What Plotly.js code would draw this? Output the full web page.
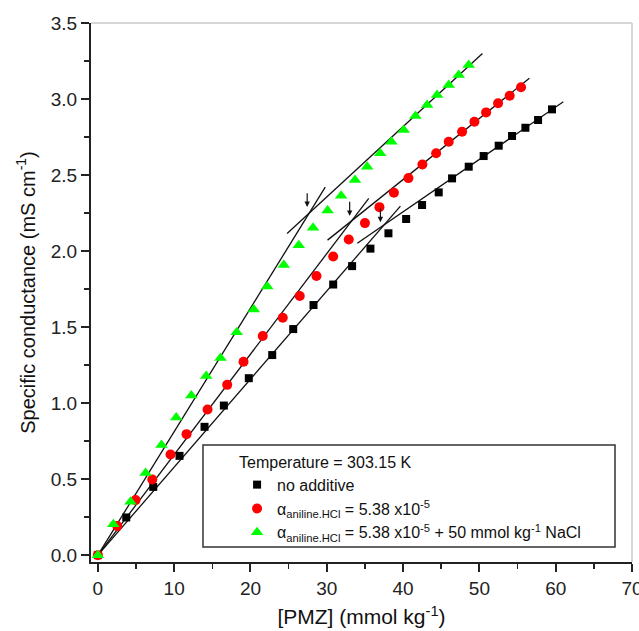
<!DOCTYPE html>
<html>
<head>
<meta charset="utf-8">
<script src="https://cdn.plot.ly/plotly-3.0.1.min.js"></script>
<style>html,body{margin:0;padding:0;background:#fff;}#chart{width:639px;height:631px;}</style>
</head>
<body>
<div id="chart"></div>
<script>
// ---- data ----
const blackX = [0, 3.72, 7.26, 10.70, 13.98, 16.51, 19.78, 22.85, 25.60, 28.26, 30.84, 33.32, 35.72, 38.08, 40.40, 42.49, 44.67, 46.42, 48.60, 50.56, 52.53, 54.28, 56.03, 57.69, 59.52];
const blackY = [0, 0.248, 0.449, 0.653, 0.844, 0.984, 1.164, 1.316, 1.487, 1.645, 1.780, 1.901, 2.016, 2.117, 2.211, 2.303, 2.386, 2.478, 2.555, 2.625, 2.693, 2.757, 2.811, 2.862, 2.932];

const redX = [0, 2.54, 4.94, 7.13, 9.52, 11.62, 14.37, 16.95, 19.09, 21.61, 24.23, 26.46, 28.65, 30.84, 32.88, 35.00, 36.90, 38.80, 40.70, 42.53, 44.33, 45.98, 47.73, 49.35, 50.88, 52.45, 53.97, 55.46];
const redY = [0, 0.191, 0.362, 0.498, 0.662, 0.796, 0.958, 1.120, 1.272, 1.441, 1.561, 1.704, 1.836, 1.964, 2.076, 2.184, 2.289, 2.384, 2.480, 2.569, 2.643, 2.719, 2.785, 2.851, 2.912, 2.972, 3.022, 3.077];

const greenX = [0, 2.02, 4.28, 6.25, 8.34, 10.27, 12.25, 14.20, 16.07, 18.20, 20.44, 22.20, 24.37, 26.33, 28.20, 30.10, 31.88, 33.70, 35.29, 37.00, 38.47, 40.08, 41.62, 43.15, 44.46, 45.98, 47.29, 48.60];
const greenY = [0, 0.204, 0.351, 0.541, 0.724, 0.906, 1.050, 1.178, 1.296, 1.466, 1.616, 1.767, 1.908, 2.039, 2.153, 2.266, 2.364, 2.467, 2.555, 2.643, 2.719, 2.796, 2.888, 2.961, 3.026, 3.092, 3.158, 3.224];

// fitted straight lines (end points)
const blackPreX = [0, 39.65],  blackPreY = [0, 2.296];
const blackPostX = [34.0, 61.0], blackPostY = [2.051, 2.982];
const redPreX = [0, 35.5],     redPreY = [0, 2.347];
const redPostX = [30.1, 56.55], redPostY = [2.072, 3.136];
const greenPreX = [0, 29.8],   greenPreY = [0, 2.42];
const greenPostX = [24.8, 50.4], greenPostY = [2.115, 3.30];

// break-point arrows (tip x, tip y, tail y)
const arrowX = [27.43, 33.0, 37.03];
const arrowTipY = [2.29, 2.232, 2.19];
const arrowTailY = [2.39, 2.335, 2.29];

const seriesNames = [
  'no additive',
  '\u03B1<sub>aniline.HCl</sub> = 5.38 x10<sup>-5</sup>',
  '\u03B1<sub>aniline.HCl</sub> = 5.38 x10<sup>-5</sup> + 50 mmol kg<sup>-1</sup> NaCl'
];
const legendTitle = 'Temperature = 303.15 K';
const xTitle = '[PMZ] (mmol kg<sup>-1</sup>)';
const yTitle = 'Specific conductance (mS cm<sup>-1</sup>)';

const FONT = 'Arial, "Liberation Sans", sans-serif';

function fitLine(x, y) {
  return {x: x, y: y, mode: 'lines', type: 'scatter', showlegend: false, hoverinfo: 'skip',
          line: {color: '#111', width: 1.3}};
}

const traces = [
  fitLine(blackPreX, blackPreY), fitLine(blackPostX, blackPostY),
  fitLine(redPreX, redPreY), fitLine(redPostX, redPostY),
  fitLine(greenPreX, greenPreY), fitLine(greenPostX, greenPostY),
  {x: blackX, y: blackY, type: 'scatter', mode: 'markers', name: seriesNames[0], legendgroup: 'a',
   marker: {symbol: 'square', size: 8, color: '#000'}},
  {x: redX, y: redY, type: 'scatter', mode: 'markers', name: seriesNames[1], legendgroup: 'b',
   marker: {symbol: 'circle', size: 10, color: '#ff0000'}},
  {x: greenX, y: greenY, type: 'scatter', mode: 'markers', name: seriesNames[2], legendgroup: 'c',
   marker: {symbol: 'triangle-up', size: 11, color: '#00ff00'}}
];

const annotations = arrowX.map((ax, i) => ({
  x: ax, y: arrowTipY[i], ax: ax, ay: arrowTailY[i], xref: 'x', yref: 'y', axref: 'x', ayref: 'y',
  showarrow: true, arrowhead: 2, arrowsize: 0.9, arrowwidth: 1.2, arrowcolor: '#111', text: ''
}));

const layout = {
  width: 639, height: 631,
  margin: {l: 91, r: 7, t: 23, b: 69},
  paper_bgcolor: '#fff', plot_bgcolor: '#fff',
  font: {family: FONT, color: '#222', size: 18},
  showlegend: true,
  legend: {
    x: 0.27, y: 0.2135, xanchor: 'left', yanchor: 'top',
    bgcolor: 'rgba(0,0,0,0)', borderwidth: 0,
    traceorder: 'grouped', tracegroupgap: 0,
    title: {text: legendTitle, font: {family: FONT, size: 16, color: '#111'}},
    font: {family: FONT, size: 16, color: '#111'}
  },
  xaxis: {
    range: [-0.9, 70.0001], dtick: 10, tick0: 0,
    showgrid: false, zeroline: false,
    showline: true, linecolor: '#222', linewidth: 2,
    ticks: 'outside', ticklen: 8, tickwidth: 2, tickcolor: '#222',
    ticklabeloverflow: 'allow',
    minor: {dtick: 5, tick0: 0, ticks: 'outside', ticklen: 5, tickwidth: 1.5, tickcolor: '#222', showgrid: false},
    tickfont: {family: FONT, size: 19, color: '#222'},
    title: {text: xTitle, font: {family: FONT, size: 21, color: '#111'}, standoff: 12},
    automargin: false
  },
  yaxis: {
    range: [-0.045, 3.5], dtick: 0.5, tick0: 0, tickformat: '.1f',
    showgrid: false, zeroline: false,
    showline: true, linecolor: '#222', linewidth: 2,
    ticks: 'outside', ticklen: 8, tickwidth: 2, tickcolor: '#222',
    minor: {dtick: 0.25, tick0: 0, ticks: 'outside', ticklen: 5, tickwidth: 1.5, tickcolor: '#222', showgrid: false},
    tickfont: {family: FONT, size: 19, color: '#222'},
    title: {text: yTitle, font: {family: FONT, size: 20, color: '#111'}, standoff: 10},
    automargin: false
  },
  shapes: [
    {type: 'line', xref: 'paper', yref: 'paper', x0: 0, x1: 1, y0: 1, y1: 1, line: {color: '#c8c8c8', width: 1.5}},
    {type: 'line', xref: 'paper', yref: 'paper', x0: 1, x1: 1, y0: 0, y1: 1, line: {color: '#c8c8c8', width: 1.5}},
    {type: 'rect', xref: 'paper', yref: 'paper', x0: 0.207, x1: 0.9686, y0: 0.0278, y1: 0.217,
     line: {color: '#333', width: 1.5}, fillcolor: 'rgba(0,0,0,0)'}
  ],
  annotations: annotations
};

Plotly.newPlot('chart', traces, layout, {staticPlot: true, displayModeBar: false});
</script>
</body>
</html>
